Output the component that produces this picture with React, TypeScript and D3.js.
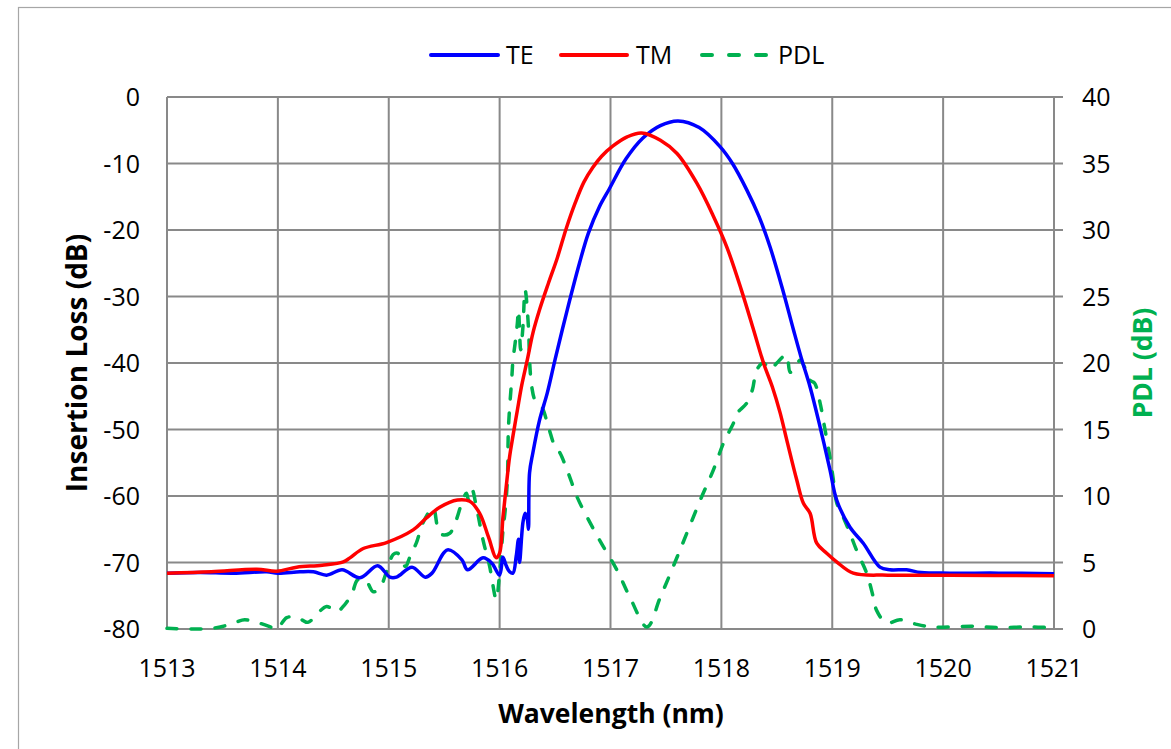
import React from "react";
import * as d3 from "d3";

// ---- Data ----
const xTicks = [1513, 1514, 1515, 1516, 1517, 1518, 1519, 1520, 1521];
const yLeftTicks = [0, -10, -20, -30, -40, -50, -60, -70, -80];
const yRightTicks = [40, 35, 30, 25, 20, 15, 10, 5, 0];

const teWl = [1513.0, 1513.3, 1513.6, 1513.9, 1514.0, 1514.2, 1514.32, 1514.44, 1514.58, 1514.74, 1514.9, 1515.01, 1515.07, 1515.21, 1515.33, 1515.39, 1515.53, 1515.66, 1515.71, 1515.85, 1515.93, 1516.0, 1516.03, 1516.06, 1516.09, 1516.12, 1516.15, 1516.17, 1516.18, 1516.21, 1516.23, 1516.25, 1516.26, 1516.27, 1516.3, 1516.36, 1516.43, 1516.5, 1516.61, 1516.72, 1516.8, 1516.9, 1516.99, 1517.14, 1517.29, 1517.45, 1517.61, 1517.8, 1517.99, 1518.1, 1518.23, 1518.34, 1518.44, 1518.55, 1518.65, 1518.72, 1518.8, 1518.89, 1518.98, 1519.04, 1519.16, 1519.28, 1519.43, 1519.52, 1519.67, 1519.8, 1520.06, 1520.5, 1521.0];
const teIL = [-71.6, -71.5, -71.6, -71.4, -71.6, -71.4, -71.4, -71.9, -71.1, -72.3, -70.5, -72.2, -72.2, -70.7, -72.2, -71.6, -68.1, -69.6, -71.1, -69.3, -70.1, -71.9, -69.2, -70.5, -71.4, -71.6, -69.0, -66.5, -70.0, -64.0, -62.6, -63.5, -65.0, -56.5, -53.5, -48.6, -44.5, -39.5, -32.0, -25.0, -20.5, -16.5, -13.8, -9.3, -6.2, -4.3, -3.6, -4.6, -7.5, -10.0, -14.0, -18.0, -22.6, -28.8, -35.0, -39.2, -43.6, -49.6, -56.1, -60.6, -64.7, -67.1, -70.7, -71.1, -71.1, -71.5, -71.6, -71.6, -71.7];

const tmWl = [1513.0, 1513.4, 1513.81, 1513.99, 1514.17, 1514.4, 1514.59, 1514.65, 1514.77, 1514.98, 1515.22, 1515.34, 1515.46, 1515.62, 1515.73, 1515.82, 1515.9, 1515.97, 1516.0, 1516.03, 1516.06, 1516.09, 1516.12, 1516.16, 1516.2, 1516.25, 1516.3, 1516.36, 1516.44, 1516.52, 1516.6, 1516.68, 1516.76, 1516.84, 1516.92, 1517.02, 1517.15, 1517.28, 1517.45, 1517.6, 1517.78, 1517.93, 1518.05, 1518.18, 1518.29, 1518.38, 1518.46, 1518.53, 1518.59, 1518.68, 1518.74, 1518.8, 1518.86, 1518.95, 1519.04, 1519.19, 1519.5, 1520.06, 1521.0];
const tmIL = [-71.6, -71.4, -71.0, -71.3, -70.7, -70.4, -69.9, -69.3, -67.9, -67.0, -65.1, -63.3, -61.7, -60.6, -60.8, -62.6, -66.2, -69.3, -68.6, -63.2, -58.5, -54.1, -51.0, -47.1, -43.3, -39.5, -35.5, -32.0, -28.0, -24.2, -19.8, -16.0, -12.8, -10.6, -8.9, -7.4, -6.0, -5.4, -6.5, -8.5, -13.0, -18.0, -22.6, -29.0, -35.0, -40.0, -43.6, -47.5, -51.6, -57.6, -61.1, -62.6, -67.1, -68.6, -69.9, -71.6, -71.9, -71.9, -72.0];

const pdlWl = [1513.0, 1513.3, 1513.48, 1513.62, 1513.7, 1513.85, 1513.95, 1513.99, 1514.08, 1514.17, 1514.27, 1514.35, 1514.44, 1514.53, 1514.6, 1514.67, 1514.72, 1514.79, 1514.86, 1514.92, 1514.98, 1515.04, 1515.08, 1515.15, 1515.19, 1515.25, 1515.31, 1515.4, 1515.44, 1515.48, 1515.55, 1515.6, 1515.66, 1515.7, 1515.72, 1515.75, 1515.79, 1515.85, 1515.91, 1515.96, 1515.97, 1516.0, 1516.03, 1516.05, 1516.07, 1516.08, 1516.11, 1516.12, 1516.14, 1516.16, 1516.17, 1516.19, 1516.21, 1516.23, 1516.26, 1516.27, 1516.29, 1516.32, 1516.38, 1516.44, 1516.5, 1516.54, 1516.62, 1516.7, 1516.79, 1516.9, 1517.06, 1517.18, 1517.33, 1517.45, 1517.63, 1517.81, 1517.93, 1518.02, 1518.11, 1518.14, 1518.23, 1518.28, 1518.32, 1518.38, 1518.44, 1518.5, 1518.56, 1518.59, 1518.62, 1518.66, 1518.71, 1518.75, 1518.8, 1518.84, 1518.89, 1518.93, 1518.98, 1519.01, 1519.04, 1519.1, 1519.16, 1519.22, 1519.31, 1519.37, 1519.4, 1519.49, 1519.61, 1519.76, 1519.91, 1520.27, 1520.5, 1520.76, 1521.0];
const pdlDB = [0.05, 0.0, 0.15, 0.5, 0.7, 0.4, 0.1, 0.0, 0.85, 0.9, 0.5, 1.1, 1.7, 1.3, 1.8, 2.7, 3.7, 3.7, 2.8, 3.1, 4.3, 5.6, 5.7, 4.7, 5.4, 6.5, 8.0, 9.1, 7.7, 7.1, 7.2, 8.0, 9.5, 10.2, 9.7, 10.5, 9.2, 6.7, 4.7, 2.4, 2.2, 4.2, 7.4, 8.9, 11.2, 15.2, 18.9, 20.2, 21.5, 23.0, 24.0, 21.0, 22.7, 25.5, 22.7, 20.2, 18.2, 17.2, 16.7, 15.2, 13.7, 13.3, 11.7, 9.9, 8.4, 6.7, 4.4, 2.3, 0.15, 2.4, 6.0, 9.7, 12.0, 14.0, 15.5, 16.2, 17.0, 18.0, 19.5, 20.0, 19.5, 20.0, 20.5, 20.6, 19.3, 19.6, 20.2, 19.7, 18.7, 18.5, 17.0, 15.2, 12.9, 11.2, 9.5, 8.4, 7.2, 5.9, 4.2, 2.4, 1.4, 0.45, 0.7, 0.35, 0.15, 0.2, 0.1, 0.15, 0.1];

const seriesNames = ["TE", "TM", "PDL"];

// ---- Layout ----
const W = 1171;
const H = 749;
const left = 167;
const right = 1054;
const top = 97;
const bottom = 629;

const BLUE = "#0000FF";
const RED = "#FF0000";
const GREEN = "#00B050";
const GRID = "#898989";
const FONT = "'Open Sans', 'Noto Sans', sans-serif";

export default function App() {
  const x = d3.scaleLinear().domain([1513, 1521]).range([left, right]);
  const yL = d3.scaleLinear().domain([-80, 0]).range([bottom, top]);
  const yR = d3.scaleLinear().domain([0, 40]).range([bottom, top]);

  const curve = d3.curveCatmullRom.alpha(0.5);
  const lineL = d3
    .line<[number, number]>()
    .x((d) => x(d[0]))
    .y((d) => yL(d[1]))
    .curve(curve);
  const lineR = d3
    .line<[number, number]>()
    .x((d) => x(d[0]))
    .y((d) => yR(d[1]))
    .curve(curve);

  const te = teWl.map((w, i) => [w, teIL[i]] as [number, number]);
  const tm = tmWl.map((w, i) => [w, tmIL[i]] as [number, number]);
  const pdl = pdlWl.map((w, i) => [w, pdlDB[i]] as [number, number]);

  const midY = (top + bottom) / 2;

  return (
    <svg
      width={W}
      height={H}
      style={{ position: "absolute", left: 0, top: 0, background: "#fff" }}
      fontFamily={FONT}
    >
      <rect x={0} y={0} width={W} height={H} fill="#fff" />
      <rect x={18.5} y={7.5} width={W + 10} height={H + 10} fill="none" stroke="#A6A6A6" strokeWidth={1.2} />

      <defs>
        <clipPath id="plotClip">
          <rect x={left - 3} y={top - 3} width={right - left + 6} height={bottom - top + 6} />
        </clipPath>
      </defs>

      {/* grid */}
      {xTicks.map((t) => (
        <line key={"gx" + t} x1={x(t)} x2={x(t)} y1={top} y2={bottom} stroke={GRID} strokeWidth={2} />
      ))}
      {yLeftTicks.map((t) => (
        <line key={"gy" + t} x1={left} x2={right + 9} y1={yL(t)} y2={yL(t)} stroke={GRID} strokeWidth={2} />
      ))}

      {/* tick labels */}
      {yLeftTicks.map((t) => (
        <text key={"yl" + t} x={140} y={yL(t)} dy="0.36em" textAnchor="end" fontSize={25} fill="#000">
          {t}
        </text>
      ))}
      {yRightTicks.map((t) => (
        <text key={"yr" + t} x={1082} y={yR(t)} dy="0.36em" textAnchor="start" fontSize={25} fill="#000">
          {t}
        </text>
      ))}
      {xTicks.map((t) => (
        <text key={"xt" + t} x={x(t)} y={677} textAnchor="middle" fontSize={25} fill="#000">
          {t}
        </text>
      ))}

      {/* axis titles */}
      <text x={0} y={0} transform={`translate(87,${midY}) rotate(-90)`} textAnchor="middle" fontSize={28} fontWeight="bold" fill="#000">
        Insertion Loss (dB)
      </text>
      <text x={0} y={0} transform={`translate(1152,${midY}) rotate(-90)`} textAnchor="middle" fontSize={26.5} fontWeight="bold" fill={GREEN}>
        PDL (dB)
      </text>
      <text x={611} y={723} textAnchor="middle" fontSize={26.5} fontWeight="bold" fill="#000">
        Wavelength (nm)
      </text>

      {/* series */}
      <g clipPath="url(#plotClip)">
        <path d={lineR(pdl) || ""} fill="none" stroke={GREEN} strokeWidth={3.5} strokeDasharray="10 14" strokeLinecap="round" />
        <path d={lineL(te) || ""} fill="none" stroke={BLUE} strokeWidth={3.5} strokeLinejoin="round" />
        <path d={lineL(tm) || ""} fill="none" stroke={RED} strokeWidth={3.5} strokeLinejoin="round" />
      </g>

      {/* legend */}
      <g>
        <line x1={431} x2={498} y1={55} y2={55} stroke={BLUE} strokeWidth={4} strokeLinecap="round" />
        <text x={506} y={64} fontSize={25} fill="#000">{seriesNames[0]}</text>
        <line x1={561} x2={627} y1={55} y2={55} stroke={RED} strokeWidth={4} strokeLinecap="round" />
        <text x={636} y={64} fontSize={25} fill="#000">{seriesNames[1]}</text>
        <line x1={702} x2={767} y1={55} y2={55} stroke={GREEN} strokeWidth={4} strokeLinecap="round" strokeDasharray="10 17" />
        <text x={778} y={64} fontSize={25} fill="#000">{seriesNames[2]}</text>
      </g>
    </svg>
  );
}
